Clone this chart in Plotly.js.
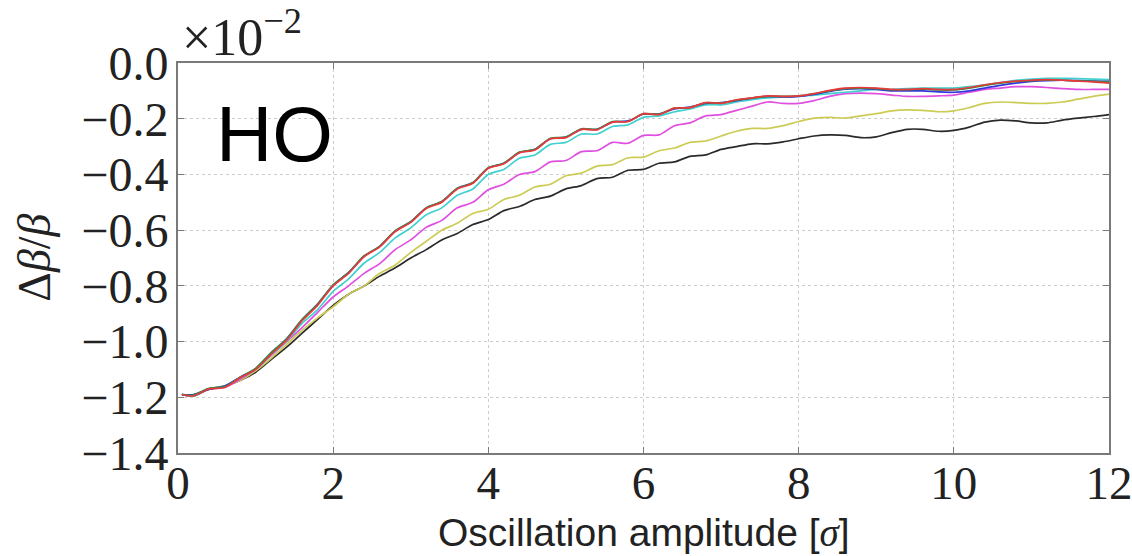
<!DOCTYPE html>
<html>
<head>
<meta charset="utf-8">
<script src="https://cdn.plot.ly/plotly-3.0.1.min.js"></script>
<style>html,body{margin:0;padding:0;background:#fff;}#chart{width:1132px;height:556px;}</style>
</head>
<body>
<div id="chart"></div>
<script>
const amplitude = [0.05,0.2,0.4,0.6,0.8,1.0,1.2,1.4,1.6,1.8,2.0,2.2,2.4,2.6,2.8,3.0,3.2,3.4,3.6,3.8,4.0,4.2,4.4,4.6,4.8,5.0,5.2,5.4,5.6,5.8,6.0,6.2,6.4,6.6,6.8,7.0,7.2,7.4,7.6,7.8,8.0,8.2,8.4,8.6,8.8,9.0,9.2,9.4,9.6,9.8,10.0,10.2,10.4,10.6,10.8,11.0,11.2,11.4,11.6,11.8,12.0];

const seriesBlue = [-1.19,-1.19,-1.172,-1.16,-1.128,-1.098,-1.042,-0.99,-0.922,-0.865,-0.798,-0.752,-0.694,-0.658,-0.604,-0.57,-0.52,-0.498,-0.45,-0.43,-0.377,-0.36,-0.322,-0.31,-0.272,-0.266,-0.238,-0.238,-0.212,-0.208,-0.184,-0.183,-0.165,-0.158,-0.145,-0.142,-0.135,-0.126,-0.12,-0.122,-0.12,-0.112,-0.102,-0.094,-0.092,-0.095,-0.1,-0.1,-0.1,-0.104,-0.105,-0.1,-0.09,-0.08,-0.072,-0.066,-0.063,-0.062,-0.063,-0.065,-0.066];
const seriesGreen = [-1.19,-1.192,-1.168,-1.162,-1.128,-1.096,-1.04,-0.99,-0.92,-0.865,-0.796,-0.752,-0.692,-0.658,-0.602,-0.57,-0.52,-0.497,-0.45,-0.43,-0.376,-0.36,-0.32,-0.31,-0.27,-0.266,-0.236,-0.238,-0.21,-0.21,-0.182,-0.184,-0.162,-0.16,-0.143,-0.144,-0.133,-0.126,-0.12,-0.12,-0.118,-0.11,-0.1,-0.092,-0.09,-0.092,-0.096,-0.096,-0.094,-0.097,-0.097,-0.09,-0.08,-0.072,-0.066,-0.063,-0.061,-0.062,-0.064,-0.066,-0.068];
const seriesRed = [-1.19,-1.195,-1.17,-1.165,-1.13,-1.10,-1.045,-0.995,-0.925,-0.87,-0.80,-0.755,-0.695,-0.66,-0.605,-0.572,-0.522,-0.50,-0.452,-0.432,-0.378,-0.362,-0.322,-0.312,-0.272,-0.268,-0.238,-0.24,-0.212,-0.21,-0.182,-0.185,-0.162,-0.16,-0.142,-0.145,-0.132,-0.125,-0.118,-0.12,-0.118,-0.11,-0.098,-0.09,-0.088,-0.09,-0.095,-0.095,-0.092,-0.095,-0.095,-0.088,-0.078,-0.07,-0.065,-0.062,-0.06,-0.062,-0.065,-0.068,-0.072];
const seriesCyan = [-1.19,-1.195,-1.17,-1.16,-1.13,-1.10,-1.048,-0.998,-0.935,-0.885,-0.82,-0.775,-0.718,-0.68,-0.628,-0.592,-0.545,-0.52,-0.475,-0.452,-0.40,-0.382,-0.342,-0.33,-0.292,-0.285,-0.255,-0.255,-0.228,-0.222,-0.195,-0.19,-0.175,-0.165,-0.15,-0.15,-0.14,-0.132,-0.125,-0.122,-0.12,-0.115,-0.11,-0.105,-0.1,-0.095,-0.095,-0.092,-0.09,-0.09,-0.09,-0.085,-0.078,-0.07,-0.062,-0.058,-0.055,-0.055,-0.056,-0.058,-0.06];
const seriesMagenta = [-1.19,-1.195,-1.17,-1.165,-1.135,-1.10,-1.05,-1.0,-0.95,-0.895,-0.84,-0.80,-0.755,-0.72,-0.67,-0.635,-0.59,-0.565,-0.52,-0.50,-0.455,-0.435,-0.40,-0.39,-0.355,-0.35,-0.318,-0.315,-0.285,-0.288,-0.26,-0.258,-0.225,-0.215,-0.19,-0.185,-0.17,-0.155,-0.14,-0.145,-0.145,-0.135,-0.12,-0.11,-0.108,-0.11,-0.115,-0.12,-0.12,-0.118,-0.115,-0.105,-0.095,-0.09,-0.085,-0.085,-0.088,-0.092,-0.095,-0.095,-0.095];
const seriesYellow = [-1.19,-1.195,-1.17,-1.16,-1.14,-1.105,-1.06,-1.01,-0.96,-0.915,-0.875,-0.83,-0.80,-0.755,-0.725,-0.68,-0.64,-0.60,-0.575,-0.54,-0.525,-0.49,-0.475,-0.445,-0.435,-0.405,-0.395,-0.37,-0.365,-0.34,-0.338,-0.315,-0.305,-0.285,-0.28,-0.262,-0.245,-0.235,-0.235,-0.225,-0.21,-0.198,-0.195,-0.198,-0.19,-0.182,-0.172,-0.168,-0.17,-0.175,-0.172,-0.16,-0.145,-0.14,-0.142,-0.145,-0.145,-0.14,-0.13,-0.12,-0.112];
const seriesBlack = [-1.19,-1.195,-1.17,-1.16,-1.14,-1.11,-1.065,-1.02,-0.97,-0.92,-0.87,-0.83,-0.80,-0.765,-0.735,-0.70,-0.67,-0.635,-0.612,-0.58,-0.562,-0.53,-0.515,-0.49,-0.478,-0.452,-0.44,-0.415,-0.41,-0.385,-0.382,-0.36,-0.355,-0.335,-0.33,-0.31,-0.30,-0.29,-0.29,-0.283,-0.272,-0.262,-0.258,-0.26,-0.268,-0.265,-0.25,-0.238,-0.238,-0.245,-0.242,-0.23,-0.212,-0.205,-0.208,-0.215,-0.215,-0.205,-0.198,-0.192,-0.185];

const xTicks = [0,2,4,6,8,10,12];
const yTicks = [0.0,-0.2,-0.4,-0.6,-0.8,-1.0,-1.2,-1.4];

const seriesList = [
  {y: seriesBlack, color: '#2a2a2a'},
  {y: seriesYellow, color: '#cccc55'},
  {y: seriesMagenta, color: '#e050e0'},
  {y: seriesCyan, color: '#40d0d0'},
  {y: seriesBlue, color: '#3535e0'},
  {y: seriesGreen, color: '#2e8a3e'},
  {y: seriesRed, color: '#e83a3a'}
];

const traces = seriesList.map(s => ({
  x: amplitude, y: s.y, type: 'scatter', mode: 'lines',
  line: {color: s.color, width: 1.7, shape: 'spline', smoothing: 0.8},
  hoverinfo: 'skip', showlegend: false
}));

const serif = 'Liberation Serif, DejaVu Serif, serif';
const sans = 'Liberation Sans, Arial, sans-serif';

const layout = {
  width: 1132, height: 556,
  margin: {l: 178, r: 23, t: 63, b: 103},
  paper_bgcolor: '#fff', plot_bgcolor: '#fff',
  showlegend: false,
  xaxis: {
    range: [0, 12], tickvals: xTicks, ticktext: xTicks.map(String),
    showgrid: true, gridcolor: '#cccccc', griddash: 'dot', gridwidth: 1,
    zeroline: false, showline: true, linecolor: '#7a7a7a', linewidth: 2, mirror: 'ticks',
    ticks: 'inside', ticklen: 6, tickcolor: '#7a7a7a', tickwidth: 1,
    ticklabelstandoff: -12, ticklabeloverflow: 'allow',
    tickfont: {family: serif, size: 47, color: '#222'}
  },
  yaxis: {
    range: [-1.4, 0], tickvals: yTicks, ticktext: yTicks.map(v => (v < 0 ? '\u2212' : '') + Math.abs(v).toFixed(1)),
    showgrid: true, gridcolor: '#cccccc', griddash: 'dot', gridwidth: 1,
    zeroline: false, showline: true, linecolor: '#7a7a7a', linewidth: 2, mirror: 'ticks',
    ticks: 'inside', ticklen: 6, tickcolor: '#7a7a7a', tickwidth: 1,
    ticklabelstandoff: -2, ticklabeloverflow: 'allow',
    tickfont: {family: serif, size: 48, color: '#222'}
  },
  annotations: [
    {text: 'HO', xref: 'paper', yref: 'paper', x: 0.104, y: 0.818, xanchor: 'center', yanchor: 'middle',
     showarrow: false, font: {family: sans, size: 78, color: '#000'}},
    {text: '\u00d710<sup>\u22122</sup>', xref: 'paper', yref: 'paper', x: 0.002, y: 1.075, xanchor: 'left', yanchor: 'middle',
     showarrow: false, font: {family: serif, size: 52, color: '#222'}},
    {text: 'Oscillation amplitude [<span style="font-family:Liberation Serif"><i>\u03c3</i></span>]', xref: 'paper', yref: 'paper',
     x: 0.5, y: -0.205, xanchor: 'center', yanchor: 'middle',
     showarrow: false, font: {family: sans, size: 39, color: '#222'}},
    {text: '\u0394<i>\u03b2</i>/<i>\u03b2</i>', xref: 'paper', yref: 'paper', x: -0.155, y: 0.5,
     xanchor: 'center', yanchor: 'middle', textangle: -90,
     showarrow: false, font: {family: serif, size: 46, color: '#222'}}
  ]
};

Plotly.newPlot('chart', traces, layout, {displayModeBar: false, staticPlot: true});
</script>
</body>
</html>
